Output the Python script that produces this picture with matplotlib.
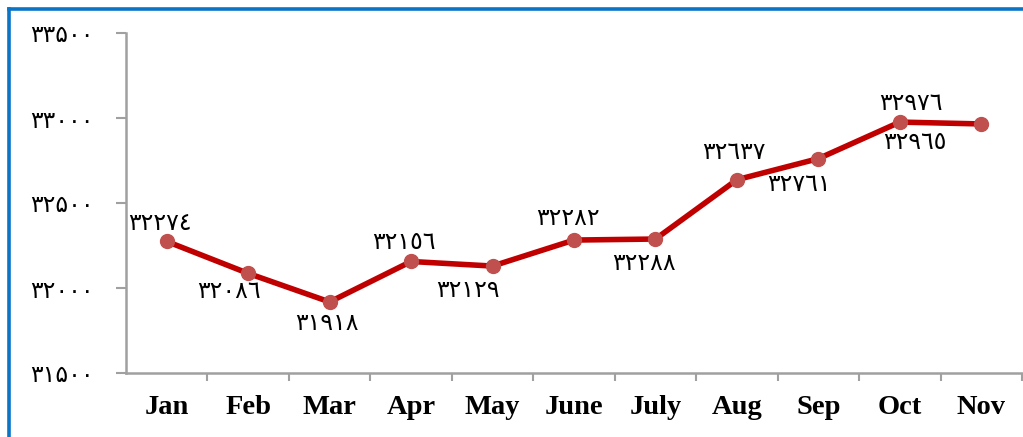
import matplotlib
matplotlib.use("Agg")
import matplotlib.pyplot as plt
from matplotlib.lines import Line2D

months = ["Jan", "Feb", "Mar", "Apr", "May", "June", "July", "Aug", "Sep", "Oct", "Nov"]
values = [32274, 32086, 31918, 32156, 32129, 32282, 32288, 32637, 32761, 32976, 32965]
y_ticks = [31500, 32000, 32500, 33000, 33500]

# label offsets in points (dx, dy)
label_offsets = [(-5, 13), (-14, -13), (-2, -15), (-5, 14), (-18, -17),
                 (-4, 16), (-8, -17), (-2, 20), (-14, -18), (8, 14), (-48, -13)]

ARABIC = str.maketrans("0123456789", "٠١٢٣٤٥٦٧٨٩")
PERSIAN = str.maketrans("0123456789", "۰۱۲۳۴۵۶۷۸۹")

fig = plt.figure(figsize=(10.23, 4.37), dpi=100)
ax = fig.add_axes([126 / 1023, 64 / 437, 896 / 1023, 340 / 437])

x = list(range(len(months)))
ax.plot(x, values, color="#C00000", linewidth=4.0, zorder=2, solid_capstyle="round")
ax.plot(x, values, linestyle="none", marker="o", markersize=10,
        markerfacecolor="#C0504D", markeredgecolor="#C0504D", zorder=3)

for xi, v, (dx, dy) in zip(x, values, label_offsets):
    ax.annotate(str(v).translate(ARABIC), (xi, v), xytext=(dx, dy),
                textcoords="offset points", ha="center", va="center",
                fontsize=17, family="DejaVu Sans", color="black")

ax.set_xlim(-0.5, len(months) - 0.5)
ax.set_ylim(31500, 33500)
ax.set_yticks(y_ticks)
ax.set_yticklabels([str(t).translate(PERSIAN) for t in y_ticks],
                   fontsize=17, family="DejaVu Sans")
ax.set_xticks(x)
ax.set_xticklabels(months, fontsize=20.5, fontweight="bold", family="Liberation Serif")
ax.set_xticks([i + 0.5 for i in x], minor=True)
ax.tick_params(axis="x", which="major", length=0, pad=16)
ax.tick_params(axis="x", which="minor", length=6, width=1.5, color="#A0A0A0", direction="out")
ax.tick_params(axis="y", length=7, width=1.5, color="#A0A0A0", direction="out", pad=16)

for side in ["top", "right"]:
    ax.spines[side].set_visible(False)
for side in ["left", "bottom"]:
    ax.spines[side].set_color("#A0A0A0")
    ax.spines[side].set_linewidth(1.8)

# blue outer frame
fig.add_artist(Line2D([8.5 / 1023, 8.5 / 1023], [0, 1 - 8.5 / 437],
                      transform=fig.transFigure, color="#0A74C6", linewidth=2.6))
fig.add_artist(Line2D([8.5 / 1023, 1], [1 - 8.5 / 437, 1 - 8.5 / 437],
                      transform=fig.transFigure, color="#0A74C6", linewidth=2.6))

fig.savefig("out.png", dpi=100)
